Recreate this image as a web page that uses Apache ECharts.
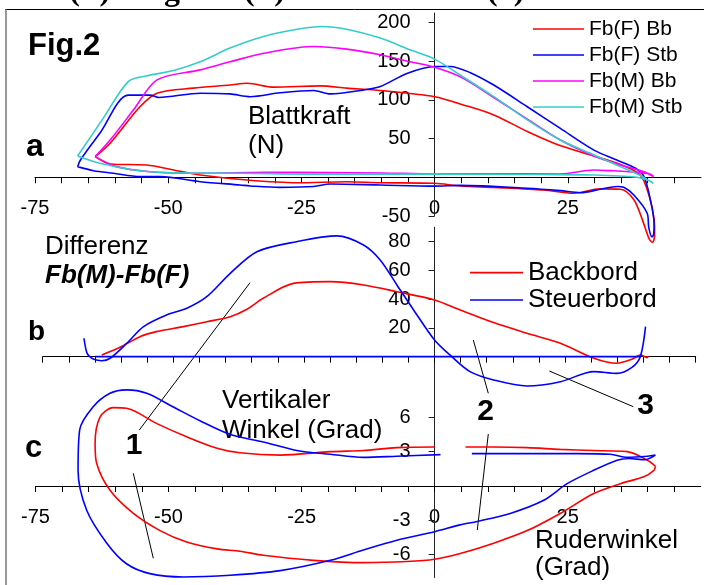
<!DOCTYPE html>
<html>
<head>
<meta charset="utf-8">
<script src="https://cdn.jsdelivr.net/npm/echarts@6/dist/echarts.min.js"></script>
<style>
  html, body { margin: 0; padding: 0; background: #fff; }
  #chart { width: 704px; height: 585px; }
</style>
</head>
<body>
<div id="chart"></div>
<script>
// shared x ticks
const xTicks = [-75, -70, -65, -60, -55, -50, -45, -40, -35, -30, -25, -20, -15, -10, -5, 0, 5, 10, 15, 20, 25, 30, 35, 40, 45];
const xTicksB = xTicks.concat([50]);
const xLabels = [-75, -50, -25, 0, 25];
const yTicksA = [-50, 50, 100, 150, 200];
const yTicksB = [20, 40, 60, 80];
const yTicksC = [-6, -3, 3, 6];

// panel a: Blattkraft (N) vs Ruderwinkel
const fbF_Bb = [[-63.7,26.6],[-60.9,44],[-55.3,91],[-52.1,108.5],[-45.3,115],[-38.4,119],[-35.2,121.4],[-30.2,116.3],[-21.5,118],[-16.5,115],[-10.2,112],[0,104],[5.4,93.4],[11.1,80.5],[17.4,59],[22.4,44],[28.6,30],[34.3,18],[38.6,3],[40.3,-25],[41.2,-55],[41.3,-75],[40.9,-84],[40.3,-80],[39,-55],[37.4,-29],[34.9,-15.5],[31.1,-15],[26.1,-20.7],[20.5,-16.4],[11.1,-13],[4.8,-11.2],[0,-7.8],[-10.2,-7],[-16.5,-5.7],[-25.8,-7],[-35.2,-3.5],[-44,3],[-49,9.4],[-54,15.9],[-60.9,17.2],[-63.7,26.6]];
const fbF_Stb = [[-67,13.7],[-66.5,22],[-62.8,57],[-57.5,106],[-53.4,106],[-51.8,103],[-44,108.5],[-38.4,107.6],[-34.6,104],[-29,109],[-22.7,112],[-19.6,107.6],[-13.3,112.8],[-10.2,117],[-5.2,134],[0,143],[2.9,143],[6.7,135],[11.1,119],[17.4,91],[23.6,63],[29.9,35],[34.3,22],[37.7,11.6],[39.3,0.8],[40.5,-29],[41.2,-60],[41.1,-74],[40.8,-77],[40.2,-65],[39.9,-46.5],[37.4,-23],[35.5,-13],[34.3,-12],[31.1,-15.5],[27.4,-19.9],[23.6,-17.3],[17.4,-14.2],[4.8,-10.5],[0,-11.5],[-10.2,-10],[-19.6,-8.7],[-22.7,-12],[-29,-13],[-34.6,-11.2],[-36.5,-10],[-44,-5.7],[-51.5,0.8],[-55.3,0.8],[-60.3,5.2],[-64,8.5],[-67,13.7]];
const fbM_Bb = [[-63.7,26.6],[-60.9,48],[-56.5,87],[-52.1,125.7],[-44,138.6],[-38.4,149],[-32.1,160],[-22.7,168.7],[-16.5,165.4],[-10.2,158],[-4.6,149],[0,142],[5,129],[11.1,103],[17.4,75],[23.6,48],[29.9,27.5],[34.9,15.9],[39.3,7.2],[41.1,0.8],[40.5,4],[38.6,6],[33,8.5],[29.9,9.4],[23.6,4.3],[10,4.5],[0,4.3],[-10,5.5],[-20,6],[-32,6.5],[-44,5.2],[-53.4,7.2],[-59.7,13.7],[-63.7,26.6]];
const fbM_Stb = [[-67,27.5],[-62.3,75],[-57.5,123.5],[-54,131],[-49,137.7],[-44,149],[-38.4,166.7],[-32.1,181.7],[-25.8,191],[-21.1,194.6],[-16.5,191],[-10.2,179.6],[-4.6,164.5],[0,152.5],[5,131],[11.1,104],[17.4,74],[23.6,48],[29.9,28.8],[34.9,13.7],[39,0.8],[41,-7.8],[40.5,-5],[38,0],[30,3],[20,3.5],[0,4],[-20,4],[-36.5,5.2],[-50.3,6],[-56.5,9.4],[-62.8,18],[-67,27.5]];

// panel b: Differenz Fb(M)-Fb(F)
const diffBb = [[-63.7,1.2],[-60.2,6.5],[-56.4,13.9],[-53.2,17.4],[-48.1,20.9],[-43.6,24.3],[-39.1,27.8],[-35.9,33],[-32.8,40.6],[-27,51],[-20,52.2],[-13.6,49.9],[-7.2,45.2],[0,39.4],[4.9,32.5],[11.3,23.7],[17.7,16.3],[24.1,9.3],[30.5,-1.1],[34.9,-4.6],[37.8,-1.8],[39.4,1.2],[40.7,-0.7],[40.9,0.3]];
const diffStb = [[-67.1,12.8],[-66.5,2.3],[-65.6,-1.1],[-64.5,-2.5],[-63.7,-2.8],[-62.1,-1.1],[-58.9,9.3],[-55.7,20.9],[-51.3,29],[-47.4,33.7],[-43.6,41.7],[-39.1,58],[-34,73],[-26.4,80],[-18.7,84],[-13.6,77.7],[-10.4,67.3],[-7.2,49.9],[-4,32.5],[0,11.6],[3.3,0],[6.8,-10.4],[11.3,-16.2],[17.7,-20.4],[24.1,-17.4],[30.5,-10.4],[34.9,-11.6],[37.8,-7.4],[39.4,0],[40.4,20.9]];
const diffStbBase = [[-65,0],[39.5,0]];

// panel c: Vertikaler Winkel vs Ruderwinkel
const vwBb = [[41.5,1.72],[40,2.25],[36.2,3],[29.9,3.1],[23.6,3.2],[17.4,3.35],[11.1,3.4],[5.8,3.4],['-','-'],[0,3.4],[-7.1,3.35],[-13.4,3.1],[-19.6,3],[-29,2.7],[-36.6,2.9],[-40.9,3.3],[-46.6,4.3],[-52.2,5.45],[-57.9,6.8],[-60.4,6.85],[-62.9,6],[-63.8,3.7],[-63.5,1.96],[-61,-0.38],[-56.6,-2.4],[-51.6,-3.9],[-46.6,-4.9],[-40.9,-5.5],[-36.6,-5.7],[-32.2,-6.06],[-22.8,-6.5],[-13.4,-6.7],[-5.2,-6.6],[0,-6.4],[4.8,-5.9],[11.1,-5],[17.4,-3.9],[23.6,-2.4],[29.9,-0.66],[34.9,0.2],[39.3,0.8],[41.2,1.37],[41.5,1.72]];
const vwStb = [[41.5,2.7],[39.5,2.3],[36.5,2.4],[34.3,2.25],[29.9,1.37],[24.9,0.2],[20.5,-1.25],[14.2,-2.4],[8,-3.1],[4.8,-3.4],[0,-4],[-7.1,-4.75],[-13.4,-5.6],[-19.6,-6.5],[-29,-7.4],[-38.4,-7.8],[-47.2,-7.95],[-53.5,-7.66],[-57.9,-6.8],[-61.6,-5],[-65.4,-2.1],[-67,1.37],[-66.7,4.9],[-64.2,6.9],[-61,8.1],[-57.9,8.4],[-54.1,8.1],[-49.1,6.9],[-44.1,5.7],[-38.4,4.5],[-32.2,3.85],[-25.9,3.1],[-19.6,2.77],[-13.4,2.5],[-7.1,2.6],[1.1,2.74],['-','-'],[7,2.83],[17.4,2.83],[26.8,2.83],[33,2.77],[36.2,2.5],[40,2.6],[41.5,2.7]];

const RED = '#ff0000', BLUE = '#0000ff', MAGENTA = '#ff00ff', CYAN = '#33cccc';
const FONT = '"Liberation Sans", Arial, sans-serif';

function xAxisFor(gridIndex, ticks) {
  return {
    type: 'value', gridIndex: gridIndex, min: -75, max: 50,
    axisLine: { onZero: true, lineStyle: { color: '#000', width: 1 } },
    axisTick: { show: true, length: 6, customValues: ticks, lineStyle: { color: '#000' } },
    axisLabel: { show: false },
    splitLine: { show: false }
  };
}
function yAxisFor(gridIndex, min, max, ticks) {
  return {
    type: 'value', gridIndex: gridIndex, min: min, max: max,
    axisLine: { show: true, onZero: true, lineStyle: { color: '#222', width: 1 } },
    axisTick: { show: true, length: 6, customValues: ticks, lineStyle: { color: '#222' } },
    axisLabel: { show: false },
    splitLine: { show: false }
  };
}
function curve(name, data, color, gi) {
  return {
    type: 'line', name: name, data: data, xAxisIndex: gi, yAxisIndex: gi,
    symbol: 'none', smooth: 0.3, clip: false, connectNulls: false,
    lineStyle: { color: color, width: 1.6 }, itemStyle: { color: color }
  };
}
function txt(text, x, baseline, size, font, align) {
  return {
    type: 'text', x: x, y: baseline - size * 0.36, silent: true,
    style: { text: text, font: font || (size + 'px ' + FONT), fill: '#000', align: align || 'left', verticalAlign: 'middle' }
  };
}
function tickText(text, x, y, align) {
  return {
    type: 'text', x: x, y: y, silent: true,
    style: { text: String(text), font: '20px ' + FONT, fill: '#000', align: align, verticalAlign: 'middle' }
  };
}
function seg(x1, y1, x2, y2, color, w) {
  return { type: 'line', silent: true, shape: { x1: x1, y1: y1, x2: x2, y2: y2 }, style: { stroke: color || '#000', lineWidth: w || 1 } };
}

const chart = echarts.init(document.getElementById('chart'));
chart.setOption({
  animation: false,
  backgroundColor: '#fff',
  grid: [
    { left: 35, right: 3, top: 13, height: 203, outerBoundsMode: 'none', containLabel: false },
    { left: 42.7, right: 8.3, top: 227.3, height: 158.1, outerBoundsMode: 'none', containLabel: false },
    { left: 35.5, right: 3.3, top: 383, height: 194.5, outerBoundsMode: 'none', containLabel: false }
  ],
  xAxis: [xAxisFor(0, xTicks), xAxisFor(1, xTicksB), xAxisFor(2, xTicks)],
  yAxis: [yAxisFor(0, -50, 212, yTicksA), yAxisFor(1, -20, 90, yTicksB), yAxisFor(2, -8, 9, yTicksC)],
  legend: [
    {
      data: ['Fb(F) Bb', 'Fb(F) Stb', 'Fb(M) Bb', 'Fb(M) Stb'],
      orient: 'vertical', left: 533, top: 16, padding: 0, icon: 'rect', itemWidth: 51, itemHeight: 1.6, itemGap: 0,
      selectedMode: false,
      textStyle: { color: '#000', fontSize: 21, fontFamily: FONT, lineHeight: 26 }
    },
    {
      data: ['Backbord', 'Steuerbord'],
      orient: 'vertical', left: 470, top: 259, padding: 0, icon: 'rect', itemWidth: 53, itemHeight: 1.6, itemGap: 0,
      selectedMode: false,
      textStyle: { color: '#000', fontSize: 26, fontFamily: FONT, lineHeight: 27.3 }
    }
  ],
  series: [
    curve('Fb(F) Bb', fbF_Bb, RED, 0),
    curve('Fb(F) Stb', fbF_Stb, BLUE, 0),
    curve('Fb(M) Bb', fbM_Bb, MAGENTA, 0),
    curve('Fb(M) Stb', fbM_Stb, CYAN, 0),
    curve('Backbord', diffBb, RED, 1),
    curve('Steuerbord', diffStb, BLUE, 1),
    curve('Steuerbord Basis', diffStbBase, BLUE, 1),
    curve('Vertikal Bb', vwBb, RED, 2),
    curve('Vertikal Stb', vwStb, BLUE, 2)
  ]
});

// tick labels sit next to the zero-crossing axes, placed through the axes' own scales
const labels = [];
[[0, yTicksA], [2, yTicksC]].forEach(function (p) {
  xLabels.forEach(function (v) {
    const pt = chart.convertToPixel({ gridIndex: p[0] }, [v, 0]);
    labels.push(tickText(v, pt[0], pt[1] + 31.5, 'center'));
  });
});
[[0, yTicksA], [1, yTicksB], [2, yTicksC]].forEach(function (p) {
  p[1].forEach(function (v) {
    const pt = chart.convertToPixel({ gridIndex: p[0] }, [0, v]);
    labels.push(tickText(v, pt[0] - 24, pt[1], 'right'));
  });
});

chart.setOption({
  graphic: labels.concat([
    seg(5, 9.5, 704, 9.5, '#000', 1),
    seg(6, 9.5, 6, 585, '#999', 2),
    txt('Fb(F) = Fg · Fh(F)', 32, 3, 32, 'bold 32px "Liberation Serif", serif'),
    txt('(1)', 487, 3, 32, 'bold 32px "Liberation Serif", serif'),
    txt('Fig.2', 28, 58, 31, 'bold 31px ' + FONT),
    txt('a', 26, 159, 32, 'bold 32px ' + FONT),
    txt('b', 28, 342, 28, 'bold 28px ' + FONT),
    txt('c', 25, 460, 31, 'bold 31px ' + FONT),
    txt('Blattkraft', 248, 126, 26),
    txt('(N)', 248, 155, 26),
    txt('Differenz', 45, 256, 26),
    txt('Fb(M)-Fb(F)', 45, 285, 26, 'italic bold 26px ' + FONT),
    txt('Vertikaler', 222, 410, 26),
    txt('Winkel (Grad)', 222, 440, 26),
    txt('Ruderwinkel', 535, 550, 26),
    txt('(Grad)', 535, 577, 26),
    txt('1', 134, 457, 30, 'bold 30px ' + FONT, 'center'),
    txt('2', 485.5, 423, 30, 'bold 30px ' + FONT, 'center'),
    txt('3', 645.5, 417, 30, 'bold 30px ' + FONT, 'center'),
    seg(139.3, 430, 250, 282.7),
    seg(133.3, 473.3, 153.3, 558.3),
    seg(473.3, 340, 488.3, 393.3),
    seg(488.3, 434, 477.3, 530),
    seg(549.3, 371, 633.3, 406.7)
  ])
});
</script>
</body>
</html>
